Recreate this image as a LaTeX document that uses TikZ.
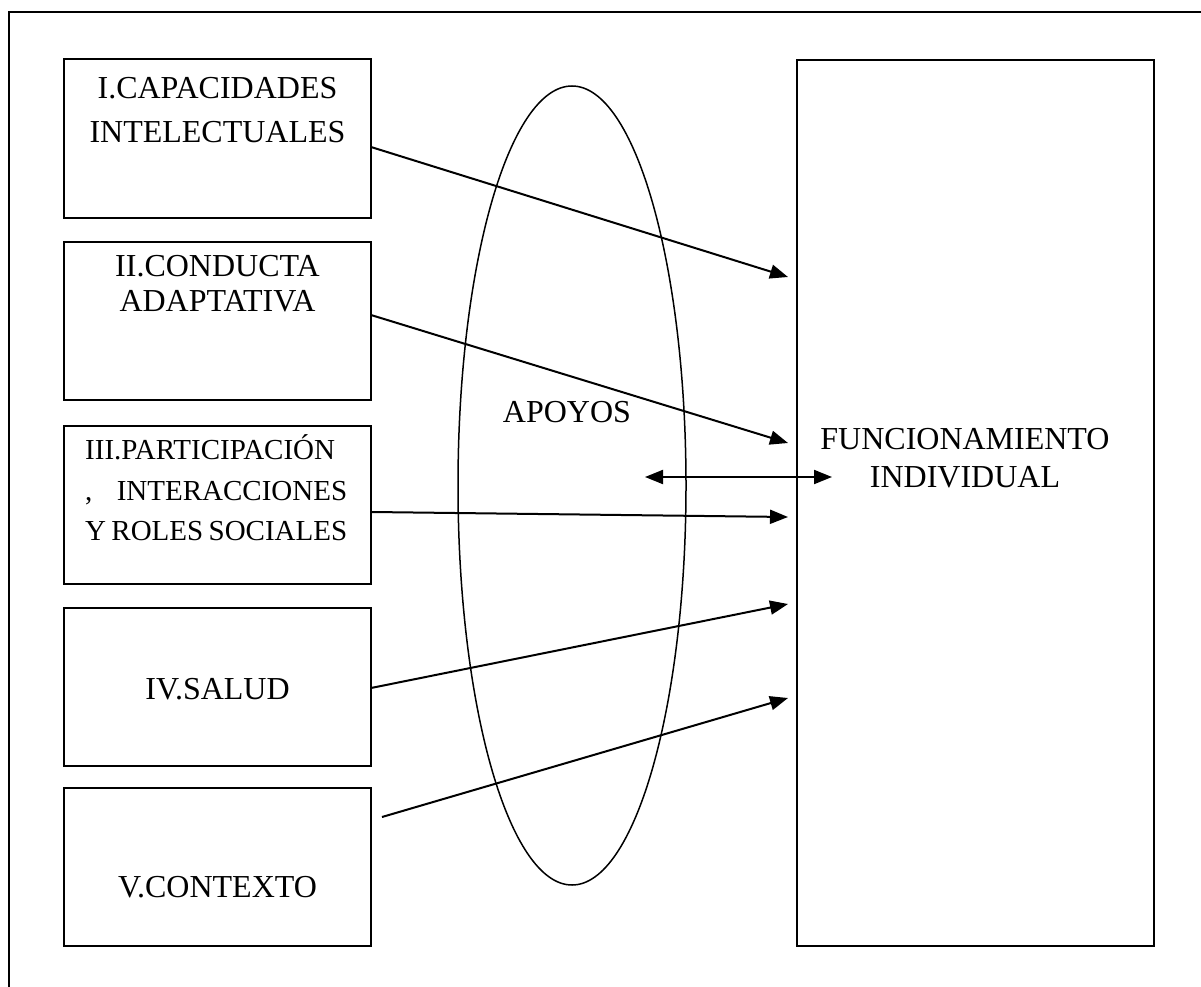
\documentclass[tikz,border=0pt]{standalone}
\usepackage{fontspec}
\setmainfont{Liberation Serif}
\usetikzlibrary{arrows.meta,shapes.geometric}
\begin{document}
\begin{tikzpicture}[x=1pt,y=-1pt,
 box/.style={draw,line width=2pt,inner sep=0pt,minimum width=307pt,minimum height=158pt},
 txt/.style={font=\fontsize{32}{38}\selectfont,inner sep=0pt,anchor=base},
 txts/.style={font=\fontsize{29}{36}\selectfont,inner sep=0pt,anchor=base west},
 arr/.style={line width=2pt,-{Triangle[length=18pt,width=14pt]}},
 darr/.style={line width=2pt,{Triangle[length=18pt,width=14pt]}-{Triangle[length=18pt,width=14pt]}},
]
\useasboundingbox (0,0) rectangle (1201,987);
\clip (0,0) rectangle (1201,987);
\draw[line width=2pt] (9,12) rectangle (1230,1020);

% boxes
\node[box] (b1) at (217.5,138.5) {};
\node[box] (b2) at (217.5,321) {};
\node[box] (b3) at (217.5,504.5) {};
\node[box] (b4) at (217.5,687) {};
\node[box] (b5) at (217.5,867) {};
\node[draw,line width=2pt,inner sep=0pt,minimum width=357pt,minimum height=886pt] (f) at (975.5,503) {};

% ellipse
\node[draw,ellipse,line width=1.5pt,inner sep=0pt,minimum width=228pt,minimum height=799pt] (ap) at (572,485.5) {};

% texts
\node[txt] (t1a) at (217.5,99) {I.CAPACIDADES};
\node[txt] (t1b) at (217.5,143) {INTELECTUALES};
\node[txt] (t2a) at (217.5,276) {II.CONDUCTA};
\node[txt] (t2b) at (217.5,311) {ADAPTATIVA};
\node[txts] (t3a) at (85,459) {\makebox[262pt][s]{III.PARTICIPACIÓN}};
\node[txts] (t3b) at (85,500) {\makebox[262pt][s]{,\hfill INTERACCIONES}};
\node[txts] (t3c) at (85,540) {\makebox[262pt][s]{Y ROLES SOCIALES}};
\node[txt] (t4) at (217.5,699) {IV.SALUD};
\node[txt] (t5) at (217.5,897) {V.CONTEXTO};
\node[txt] (tap) at (567,422) {APOYOS};
\node[txt] (tf1) at (965,449) {FUNCIONAMIENTO};
\node[txt] (tf2) at (965,487) {INDIVIDUAL};

% arrow end points
\coordinate (s1) at (371,147); \coordinate (e1) at (788,277);
\coordinate (s2) at (371,315); \coordinate (e2) at (788,443);
\coordinate (s3) at (372,512); \coordinate (e3) at (788,517);
\coordinate (s4) at (371,688); \coordinate (e4) at (788,604);
\coordinate (s5) at (382,817); \coordinate (e5) at (788,698);
\coordinate (dl) at (645,477); \coordinate (dr) at (832,477);

\draw[arr] (s1) -- (e1);
\draw[arr] (s2) -- (e2);
\draw[arr] (s3) -- (e3);
\draw[arr] (s4) -- (e4);
\draw[arr] (s5) -- (e5);
\draw[darr] (dl) -- (dr);
\end{tikzpicture}
\end{document}
